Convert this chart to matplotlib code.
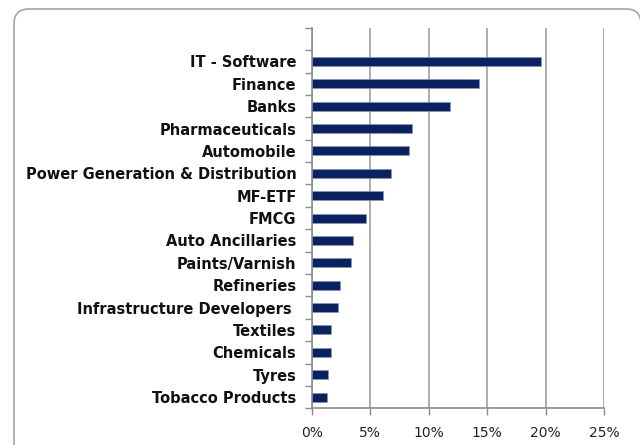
import matplotlib
matplotlib.use("Agg")
import matplotlib.pyplot as plt
from matplotlib.patches import FancyBboxPatch
from matplotlib.ticker import FuncFormatter

sectors = ["IT - Software", "Finance", "Banks", "Pharmaceuticals", "Automobile",
           "Power Generation & Distribution", "MF-ETF", "FMCG", "Auto Ancillaries",
           "Paints/Varnish", "Refineries", "Infrastructure Developers ", "Textiles",
           "Chemicals", "Tyres", "Tobacco Products"]
weights = [19.6, 14.3, 11.8, 8.6, 8.3, 6.8, 6.1, 4.65, 3.55, 3.4,
           2.4, 2.25, 1.65, 1.65, 1.4, 1.3]
xticks = [0, 5, 10, 15, 20, 25]

fig = plt.figure(figsize=(6.4, 4.45), dpi=100)
ax = fig.add_axes([0.487, 0.0825, 0.457, 0.855])

# rounded frame round the whole chart (pixel coords)
frame = FancyBboxPatch((14, -20), 627, 456,
                       boxstyle="round,pad=0,rounding_size=15",
                       transform=None, fill=False,
                       edgecolor="#a6a6a6", linewidth=1.2, clip_on=False)
fig.patches.append(frame)

n = len(sectors)
pos = list(range(n))
ax.barh(pos, weights, height=0.4, color="#0c225e", edgecolor="#8696c0",
        linewidth=0.4, zorder=3)

# one empty slot above the first bar, as in the original
ax.set_ylim(n - 0.5, -1.5)
ax.set_xlim(0, 25)
ax.set_xticks(xticks)
ax.xaxis.set_major_formatter(FuncFormatter(lambda v, p: f"{v:.0f}%"))
ax.grid(axis="x", color="#a0a0a0", linewidth=1.2, zorder=0)

ax.set_yticks(pos)
ax.set_yticklabels(sectors, fontsize=10.5, fontweight="bold", color="#111111")
ax.set_yticks([i - 0.5 for i in range(-1, n + 1)], minor=True)
ax.tick_params(axis="y", which="major", length=0, pad=11)
ax.tick_params(axis="y", which="minor", length=5, color="#8c8c8c", width=1)
ax.tick_params(axis="x", length=5, color="#8c8c8c", width=1, labelsize=10,
               labelcolor="#222222", pad=8)

for s in ["top", "right"]:
    ax.spines[s].set_visible(False)
for s in ["left", "bottom"]:
    ax.spines[s].set_color("#8c8c8c")
    ax.spines[s].set_linewidth(1.2)

fig.savefig("out.png", dpi=100)
